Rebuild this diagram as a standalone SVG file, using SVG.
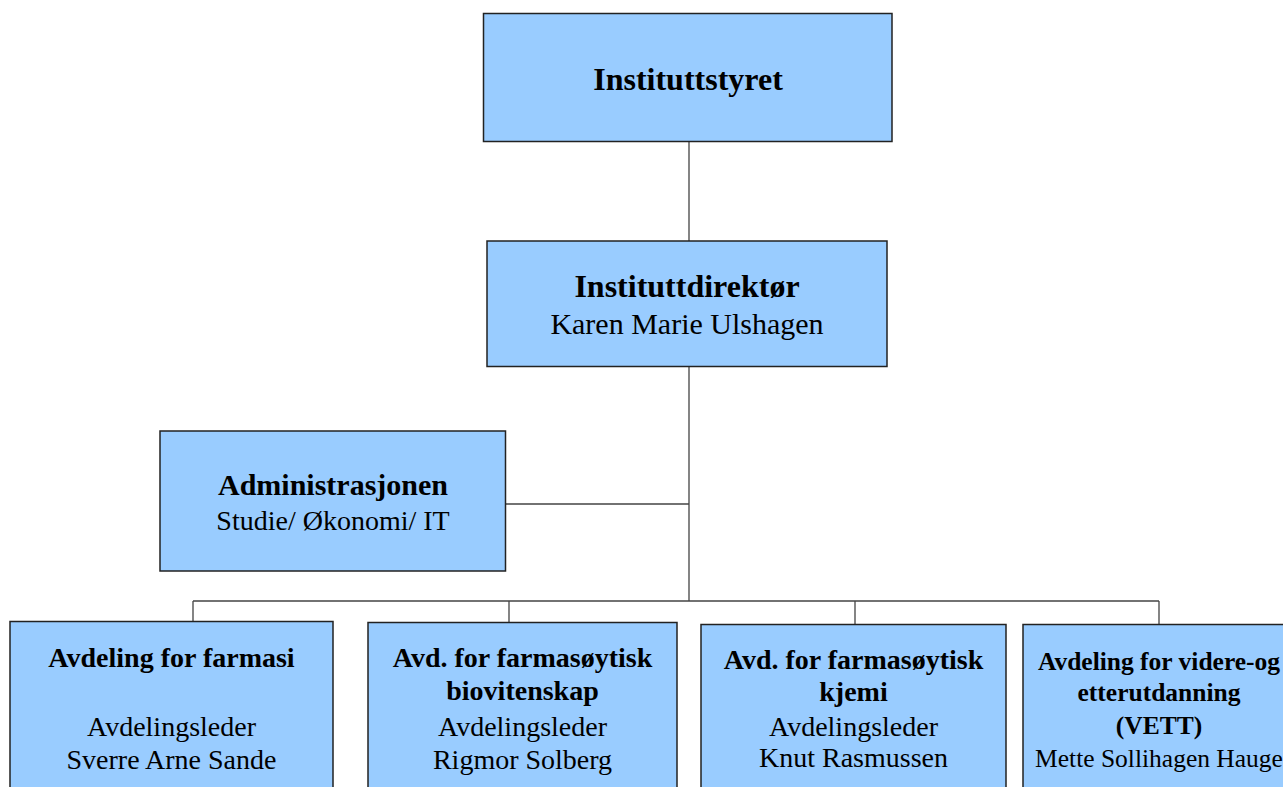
<svg xmlns="http://www.w3.org/2000/svg" width="1283" height="787" viewBox="0 0 1283 787">
<style>
.box{fill:#99CCFF;stroke:#222;stroke-width:1.5}
.ln{stroke:#444;stroke-width:1.3;fill:none}
text{font-family:"Liberation Serif","Times New Roman",serif;fill:#000;text-anchor:middle}
.b{font-weight:bold}
.t32{font-size:32px}
.t30{font-size:30px}
.t28{font-size:28px}
.t26{font-size:25.5px}
</style>
<rect width="1283" height="787" fill="#fff"/>
<g id="connectors">
<path class="ln" d="M689,141V241M689,366V601M505,504H689M193,601H1159M193,601V621M509,601V622M855,601V624M1159,601V624"/>
</g>
<g id="n-styret">
<rect class="box" x="483.5" y="13.5" width="408.5" height="128"/>
<text class="b t32" x="688" y="90">Instituttstyret</text>
</g>
<g id="n-direktor">
<rect class="box" x="487" y="241" width="400" height="125.5"/>
<text class="b t32" x="687" y="297">Instituttdirektør</text>
<text class="t30" x="687" y="334">Karen Marie Ulshagen</text>
</g>
<g id="n-admin">
<rect class="box" x="160" y="431" width="345.5" height="140"/>
<text class="b t30" x="333" y="495">Administrasjonen</text>
<text class="t28" x="333" y="530">Studie/ Økonomi/ IT</text>
</g>
<g id="n-farmasi">
<rect class="box" x="10" y="621.5" width="323" height="180"/>
<text class="b t28" x="171.5" y="667">Avdeling for farmasi</text>
<text class="t28" x="171.5" y="736">Avdelingsleder</text>
<text class="t28" x="171.5" y="769">Sverre Arne Sande</text>
</g>
<g id="n-bio">
<rect class="box" x="368" y="622.5" width="309" height="180"/>
<text class="b t28" x="522.5" y="667">Avd. for farmasøytisk</text>
<text class="b t28" x="522.5" y="700">biovitenskap</text>
<text class="t28" x="522.5" y="736">Avdelingsleder</text>
<text class="t28" x="522.5" y="769">Rigmor Solberg</text>
</g>
<g id="n-kjemi">
<rect class="box" x="701" y="624.5" width="305" height="180"/>
<text class="b t28" x="853.5" y="669">Avd. for farmasøytisk</text>
<text class="b t28" x="853.5" y="701">kjemi</text>
<text class="t28" x="853.5" y="736">Avdelingsleder</text>
<text class="t28" x="853.5" y="767">Knut Rasmussen</text>
</g>
<g id="n-vett">
<rect class="box" x="1023" y="624.5" width="280" height="180"/>
<text class="b t26" x="1159" y="670">Avdeling for videre-og</text>
<text class="b t26" x="1159" y="701">etterutdanning</text>
<text class="b t26" x="1159" y="734">(VETT)</text>
<text class="t26" x="1159" y="767">Mette Sollihagen Hauge</text>
</g>
</svg>
